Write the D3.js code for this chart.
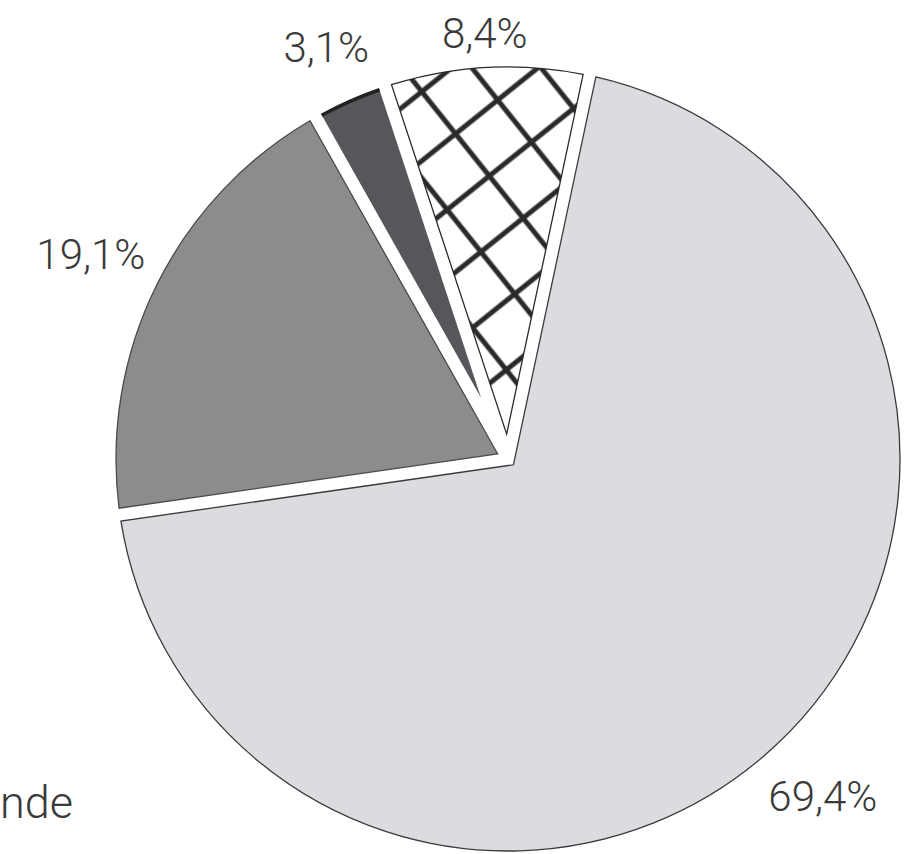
<!DOCTYPE html>
<html>
<head>
<meta charset="utf-8">
<script src="https://cdn.jsdelivr.net/npm/d3@7"></script>
<style>
  html, body { margin: 0; padding: 0; background: #fff; }
  text { font-family: Roboto, "Open Sans", "Liberation Sans", sans-serif; font-weight: 300; fill: #3a3a3a; }
</style>
</head>
<body>
<div class="container"></div>
<script>
const w = 924
const h = 854

// slices, clockwise from the big one
const slices = ['light', 'medium', 'dark', 'hatched']
const values = [69.4, 19.1, 3.1, 8.4]
const labels = ['69,4%', '19,1%', '3,1%', '8,4%']

const cx = 508
const cy = 459
const R = 392
const halfGap = 6.5
const startDeg = 12
const labelRadius = [461, 465, 450, 427]
const fills = ['#dcdce0', '#8c8c8f', '#57575b', 'url(#hatch)']
const strokes = ['#3a3a3a', '#4a4a4a', 'none', '#2a2a2a']

const svg = d3.select('.container')
    .append('svg')
    .attr('width', w)
    .attr('height', h)

// cross hatch
const pattern = svg.append('defs')
    .append('pattern')
    .attr('id', 'hatch')
    .attr('patternUnits', 'userSpaceOnUse')
    .attr('width', 54)
    .attr('height', 54)
    .attr('patternTransform', 'translate(437,113) rotate(-38.7) translate(-27,-27)')
pattern.append('rect').attr('width', 54).attr('height', 54).attr('fill', '#fff')
pattern.append('path')
    .attr('d', 'M0,27H54M27,0V54')
    .attr('stroke', '#2a2a2a')
    .attr('stroke-width', 5)

const pie = d3.pie()
    .sort(null)
    .value(d => d)
    .startAngle(startDeg * Math.PI / 180)
    .endAngle(startDeg * Math.PI / 180 + 2 * Math.PI)

const arcs = pie(values)

// wedge with parallel gaps: sides pushed in by halfGap, outer edge on the common circle
const slicePath = d => {
    const a0 = d.startAngle, a1 = d.endAngle
    const half = (a1 - a0) / 2, mid = a0 + half
    const tip = halfGap / Math.sin(half)
    const da = Math.asin(halfGap / R)
    const p = d3.path()
    p.moveTo(tip * Math.sin(mid), -tip * Math.cos(mid))
    p.arc(0, 0, R, a0 + da - Math.PI / 2, a1 - da - Math.PI / 2)
    p.closePath()
    return p.toString()
}

const outerEdge = d => {
    const da = Math.asin(halfGap / R)
    const p = d3.path()
    p.arc(0, 0, R - 1, d.startAngle + da - Math.PI / 2, d.endAngle - da - Math.PI / 2)
    return p.toString()
}

const g = svg.append('g')
    .attr('transform', 'translate(' + cx + ',' + cy + ')')

g.selectAll('path.slice')
    .data(arcs)
    .enter()
    .append('path')
    .attr('class', 'slice')
    .attr('d', slicePath)
    .attr('fill', (d, i) => fills[i])
    .attr('stroke', (d, i) => strokes[i])
    .attr('stroke-width', 1.3)
    .attr('stroke-linejoin', 'miter')

// heavy rim on the dark slice
g.append('path')
    .datum(arcs[2])
    .attr('d', outerEdge)
    .attr('fill', 'none')
    .attr('stroke', '#222')
    .attr('stroke-width', 3.5)

g.selectAll('text.pct')
    .data(arcs)
    .enter()
    .append('text')
    .attr('class', 'pct')
    .attr('transform', (d, i) => {
        const c = d3.arc().innerRadius(labelRadius[i]).outerRadius(labelRadius[i]).centroid(d)
        return 'translate(' + c[0] + ',' + c[1] + ')'
    })
    .attr('text-anchor', 'middle')
    .attr('dy', '0.36em')
    .style('font-size', '42px')
    .text((d, i) => labels[i])

// legend text at the left edge
svg.append('text')
    .attr('x', 0)
    .attr('y', 818)
    .style('font-size', '45px')
    .text('nde')
</script>
</body>
</html>
